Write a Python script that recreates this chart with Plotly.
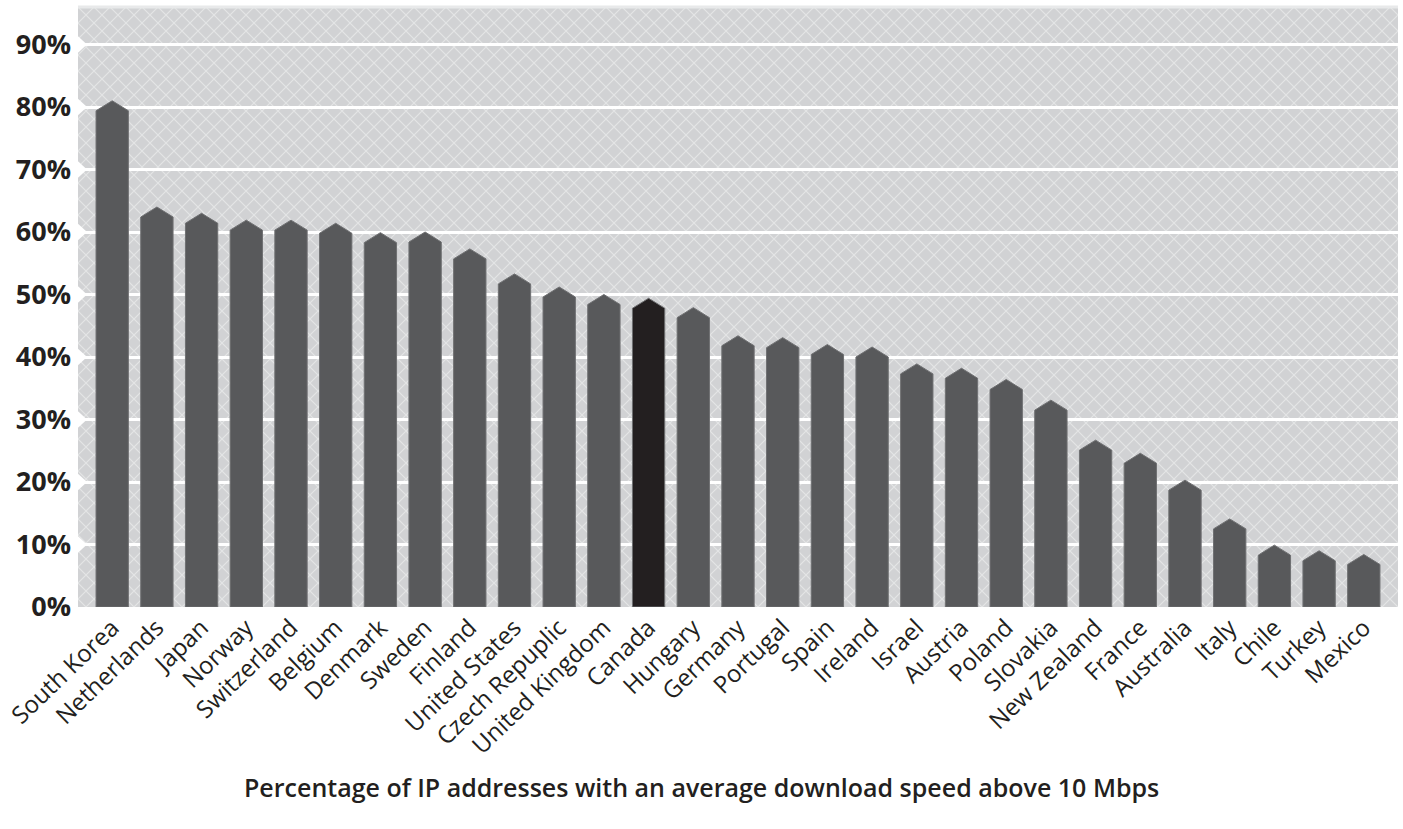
import base64
import plotly.graph_objects as go

# Share of IP addresses with average download speed above 10 Mbps (%)
countries = [
    "South Korea", "Netherlands", "Japan", "Norway", "Switzerland", "Belgium",
    "Denmark", "Sweden", "Finland", "United States", "Czech Repuplic",
    "United Kingdom", "Canada", "Hungary", "Germany", "Portugal", "Spain",
    "Ireland", "Israel", "Austria", "Poland", "Slovakia", "New Zealand",
    "France", "Australia", "Italy", "Chile", "Turkey", "Mexico",
]
share = [
    81.0, 64.0, 63.0, 61.9, 61.9, 61.4,
    59.9, 60.0, 57.3, 53.3, 51.2,
    50.0, 49.4, 47.9, 43.4, 43.1, 42.0,
    41.6, 38.9, 38.2, 36.4, 33.1, 26.7,
    24.6, 20.3, 14.1, 9.9, 9.0, 8.4,
]
highlight = "Canada"

y_ticks = [0, 10, 20, 30, 40, 50, 60, 70, 80, 90]
y_labels = [f"{v}%" for v in y_ticks]

BAR_COLOR = "#58595b"
HIGHLIGHT_COLOR = "#231f20"
BG_COLOR = "#d1d2d4"
HATCH_COLOR = "#e4e5e6"
TEXT_COLOR = "#231f20"

W, H = 1403, 829
M_L, M_R, M_T, M_B = 78, 5, 7, 222
PLOT_W = W - M_L - M_R
PLOT_H = H - M_T - M_B
Y_MAX = 96.0
X_RANGE = [-0.765, len(countries) - 1 + 0.765]

BAR_W = 0.723                     # bar width in category units
CAP_PX = 10                       # height of the pointed cap in pixels
cap = CAP_PX * Y_MAX / PLOT_H     # cap height in data units


def arrow_bars(indices):
    xs, ys = [], []
    for i in indices:
        v = share[i]
        l, r = i - BAR_W / 2, i + BAR_W / 2
        xs += [l, l, i, r, r, l, None]
        ys += [0, v - cap, v, v - cap, 0, 0, None]
    return xs, ys


normal_idx = [i for i, c in enumerate(countries) if c != highlight]
hl_idx = [i for i, c in enumerate(countries) if c == highlight]

fig = go.Figure()
for idx, color in ((normal_idx, BAR_COLOR), (hl_idx, HIGHLIGHT_COLOR)):
    xs, ys = arrow_bars(idx)
    fig.add_trace(go.Scatter(
        x=xs, y=ys, mode="lines", fill="toself", fillcolor=color,
        line=dict(color="#6f7072", width=1), hoverinfo="skip", showlegend=False,
    ))

# cross-hatched plot background
s = 16
svg = (
    f'<svg xmlns="http://www.w3.org/2000/svg" width="{PLOT_W}" height="{PLOT_H}">'
    f'<defs><pattern id="h" width="{s}" height="{s}" patternUnits="userSpaceOnUse">'
    f'<path d="M0,0L{s},{s}M{s},0L0,{s}" stroke="{HATCH_COLOR}" stroke-width="1.1"/>'
    f'</pattern></defs>'
    f'<rect width="100%" height="100%" fill="{BG_COLOR}"/>'
    f'<rect width="100%" height="100%" fill="url(#h)"/></svg>'
)
uri = "data:image/svg+xml;base64," + base64.b64encode(svg.encode()).decode()

shapes = []
# light band along the top edge
shapes.append(dict(type="line", xref="paper", yref="paper", x0=0, x1=1, y0=1, y1=1,
                   line=dict(color="#e8e9ea", width=3), layer="above"))
# small white notches on the left edge at each gridline
dx = 9 / PLOT_W
dy = 8.3 * Y_MAX / PLOT_H
for t in y_ticks[1:]:
    shapes.append(dict(
        type="path", xref="paper", yref="y",
        path=f"M0,{t - dy} L{dx},{t} L0,{t + dy} Z",
        fillcolor="white", line=dict(width=0), layer="above",
    ))

fig.update_layout(
    width=W, height=H,
    margin=dict(l=M_L, r=M_R, t=M_T, b=M_B, pad=0, autoexpand=False),
    paper_bgcolor="white", plot_bgcolor=BG_COLOR,
    images=[dict(source=uri, xref="paper", yref="paper", x=0, y=1, sizex=1, sizey=1,
                 sizing="stretch", xanchor="left", yanchor="top", layer="below")],
    shapes=shapes,
    xaxis=dict(
        range=X_RANGE, tickmode="array", tickvals=list(range(len(countries))),
        ticktext=countries, tickangle=-44, showgrid=False, zeroline=False,
        ticks="", ticklabelstandoff=1, automargin=False,
        tickfont=dict(family="Open Sans", size=24, color=TEXT_COLOR),
    ),
    yaxis=dict(
        range=[0, Y_MAX], tickmode="array", tickvals=y_ticks, ticktext=y_labels,
        showgrid=True, gridcolor="white", gridwidth=2.5, zeroline=False,
        ticks="", ticklabelstandoff=6, automargin=False,
        tickfont=dict(family="Open Sans", size=27, color=TEXT_COLOR, weight="bold"),
    ),
    annotations=[dict(
        text="Percentage of IP addresses with an average download speed above 10 Mbps",
        xref="paper", yref="paper", x=(701 - M_L) / PLOT_W, y=-(787 - (M_T + PLOT_H)) / PLOT_H,
        xanchor="center", yanchor="middle", showarrow=False,
        font=dict(family="Open Sans", size=25, color=TEXT_COLOR, weight=600),
    )],
)

fig.write_html("out.html")
